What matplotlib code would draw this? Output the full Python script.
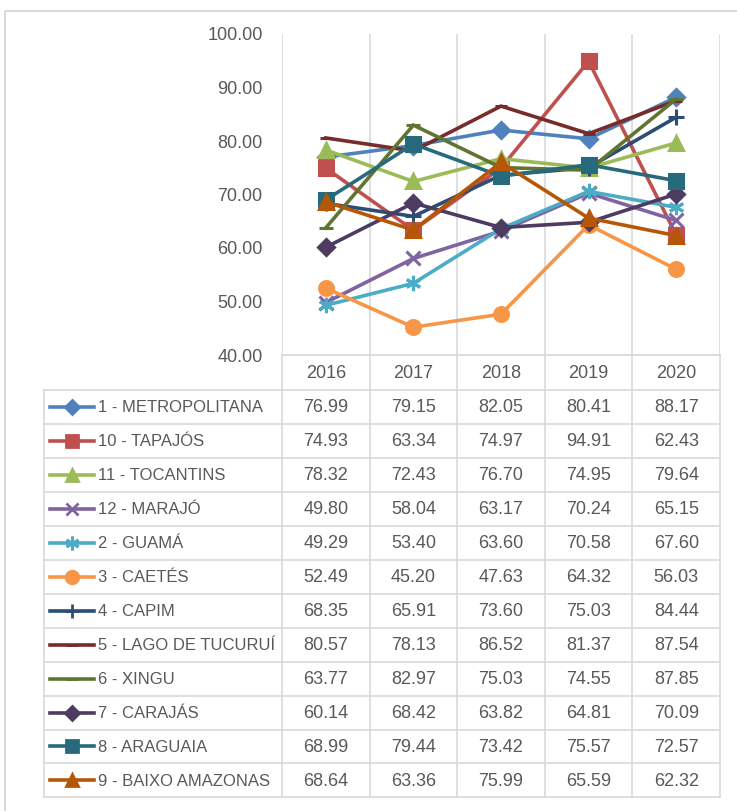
import matplotlib
matplotlib.use("Agg")
import matplotlib.pyplot as plt
from matplotlib.lines import Line2D
from matplotlib.patches import Rectangle
from matplotlib import font_manager

names = {f.name for f in font_manager.fontManager.ttflist}
FONT = ['Liberation Sans Narrow', 'Liberation Sans', 'DejaVu Sans'] if 'Liberation Sans Narrow' in names else ['Liberation Sans', 'DejaVu Sans']
plt.rcParams['font.family'] = FONT

years = ["2016", "2017", "2018", "2019", "2020"]
series_names = ["1 - METROPOLITANA", "10 - TAPAJÓS", "11 - TOCANTINS", "12 - MARAJÓ",
                "2 - GUAMÁ", "3 - CAETÉS", "4 - CAPIM", "5 - LAGO DE TUCURUÍ",
                "6 - XINGU", "7 - CARAJÁS", "8 - ARAGUAIA", "9 - BAIXO AMAZONAS"]
metropolitana = [76.99, 79.15, 82.05, 80.41, 88.17]
tapajos = [74.93, 63.34, 74.97, 94.91, 62.43]
tocantins = [78.32, 72.43, 76.70, 74.95, 79.64]
marajo = [49.80, 58.04, 63.17, 70.24, 65.15]
guama = [49.29, 53.40, 63.60, 70.58, 67.60]
caetes = [52.49, 45.20, 47.63, 64.32, 56.03]
capim = [68.35, 65.91, 73.60, 75.03, 84.44]
tucurui = [80.57, 78.13, 86.52, 81.37, 87.54]
xingu = [63.77, 82.97, 75.03, 74.55, 87.85]
carajas = [60.14, 68.42, 63.82, 64.81, 70.09]
araguaia = [68.99, 79.44, 73.42, 75.57, 72.57]
baixo = [68.64, 63.36, 75.99, 65.59, 62.32]
values = [metropolitana, tapajos, tocantins, marajo, guama, caetes, capim,
          tucurui, xingu, carajas, araguaia, baixo]

colors = ["#4F81BD", "#C0504D", "#9BBB59", "#8064A2", "#4BACC6", "#F79646",
          "#2C4D75", "#772C2A", "#5F7530", "#4D3B62", "#276A7C", "#B65708"]
markers = ["D", "s", "^", "x", (6, 2, 0), "o", "+", "_", "_", "D", "s", "^"]
msizes = [8, 10, 10, 10, 11, 10, 11, 9, 10, 8, 10, 10]

W, H = 737, 811
fig = plt.figure(figsize=(W / 100, H / 100), dpi=100)

# pixel layout
px_left, px_right = 282, 720
py_top, py_bottom = 34, 355
row_top = 390
row_h = 33.95
leg_left = 44

def fx(x): return x / W
def fy(y): return 1 - y / H

ax = fig.add_axes([fx(px_left), fy(py_bottom), (px_right - px_left) / W, (py_bottom - py_top) / H])
x = list(range(len(years)))
for vals, c, m, ms in zip(values, colors, markers, msizes):
    ax.plot(x, vals, color=c, lw=2.6, marker=m, ms=ms, mfc=c, mec=c, mew=2.2,
            solid_joinstyle='miter', zorder=3)
ax.set_xlim(-0.5, len(years) - 0.5)
ax.set_ylim(40, 100)
ax.set_yticks([40, 50, 60, 70, 80, 90, 100])
ax.set_yticklabels([f"{v:.2f}" for v in [40, 50, 60, 70, 80, 90, 100]])
ax.tick_params(axis='y', length=0, pad=14, labelsize=13, labelcolor="#595959")
ax.set_xticks([i - 0.5 for i in range(len(years) + 1)])
ax.set_xticklabels([])
ax.tick_params(axis='x', length=0)
ax.grid(axis='x', color="#D9D9D9", lw=1.2)
for s in ['top', 'right', 'left']:
    ax.spines[s].set_visible(False)
ax.spines['bottom'].set_color("#D9D9D9")
ax.spines['bottom'].set_linewidth(1.2)

# overlay axes for table (pixel coordinates)
ov = fig.add_axes([0, 0, 1, 1], zorder=-1)
ov.set_xlim(0, W)
ov.set_ylim(H, 0)
ov.axis('off')

gc = "#D9D9D9"
tc = "#595959"
# chart border
ov.add_patch(Rectangle((5, 11), W, H, fill=False, ec=gc, lw=1.5))

col_edges = [px_left + i * (px_right - px_left) / len(years) for i in range(len(years) + 1)]
n = len(series_names)
row_bottom = row_top + n * row_h
# vertical lines
for xe in col_edges:
    ov.plot([xe, xe], [py_bottom, row_bottom], color=gc, lw=1.2)
ov.plot([leg_left, leg_left], [row_top, row_bottom], color=gc, lw=1.2)
# horizontal lines
ov.plot([px_left, px_right], [py_bottom, py_bottom], color=gc, lw=1.2)
for i in range(n + 1):
    ov.plot([leg_left, px_right], [row_top + i * row_h] * 2, color=gc, lw=1.2)

# header
for i, yr in enumerate(years):
    cx = (col_edges[i] + col_edges[i + 1]) / 2
    ov.text(cx, (py_bottom + row_top) / 2 + 1, yr, ha='center', va='center', fontsize=13, color=tc)

for r, (name, vals, c, m, ms) in enumerate(zip(series_names, values, colors, markers, msizes)):
    cy = row_top + (r + 0.5) * row_h
    ov.add_line(Line2D([50, 94], [cy, cy], color=c, lw=2.6))
    ov.add_line(Line2D([72], [cy], color=c, marker=m, ms=ms * 0.9, mfc=c, mec=c, mew=2))
    ov.text(98, cy + 1, name, ha='left', va='center', fontsize=12.0, color=tc)
    for i, v in enumerate(vals):
        cx = (col_edges[i] + col_edges[i + 1]) / 2
        ov.text(cx, cy + 1, f"{v:.2f}", ha='center', va='center', fontsize=13, color=tc)

fig.savefig("out.png", dpi=100)
